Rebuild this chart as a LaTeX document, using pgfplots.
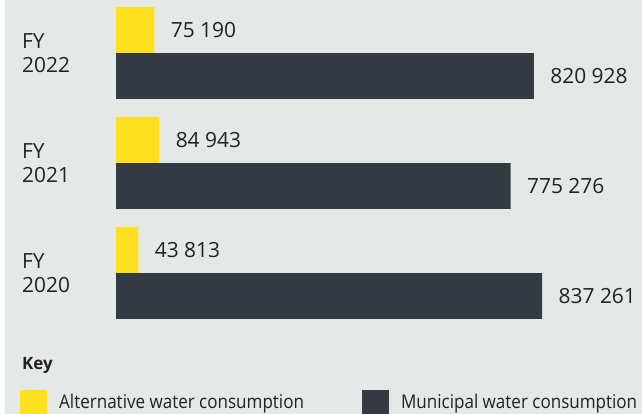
\documentclass[border=0pt]{standalone}
\usepackage{fontspec}
\setmainfont{Open Sans}
\newfontfamily\condfont[FakeStretch=0.9]{Open Sans}
\usepackage{pgfplots}
\pgfplotsset{compat=1.18}
\definecolor{bgc}{HTML}{E4E8E7}
\definecolor{yel}{HTML}{FFE01E}
\definecolor{drk}{HTML}{343A41}
\definecolor{txt}{HTML}{222222}
\begin{document}
\begin{tikzpicture}
\useasboundingbox (0bp,0bp) rectangle (642bp,414bp);
\fill[white] (0bp,0bp) rectangle (642bp,414bp);
\fill[bgc] (5bp,0bp) rectangle (642bp,414bp);
\begin{axis}[
  at={(116bp,414bp)}, anchor=north west,
  scale only axis, width=500bp, height=330bp,
  xbar, bar width=0.418,
  xmin=0, xmax=982318, ymin=-0.518, ymax=2.482,
  axis line style={draw=none},
  xtick=\empty,
  ytick={0,1,2}, yticklabels={{FY\\2020},{FY\\2021},{FY\\2022}},
  major tick length=0pt,
  yticklabel style={anchor=west, xshift=-94bp, align=left, inner sep=0pt, font=\fontsize{21}{24}\selectfont, text=txt},
  clip=false,
  nodes near coords, point meta=explicit symbolic,
  nodes near coords style={anchor=west, xshift=13bp, font=\fontsize{21}{24}\selectfont, text=txt},
  legend columns=2,
  legend style={at={(axis description cs:-0.192,-0.2182)}, anchor=west, draw=none, fill=none, inner sep=0pt,
    font=\condfont\fontsize{19}{22}\selectfont, text=txt,
    nodes={inner sep=0pt},
    /tikz/every odd column/.append style={column sep=12bp},
    /tikz/every even column/.append style={column sep=58bp}},
  legend image code/.code={\fill[#1] (0bp,-12bp) rectangle (27bp,12bp);},
]
\addplot[fill=yel, draw=none, bar shift=0.209] coordinates {(43813,0)[43 813] (84943,1)[84 943] (75190,2)[75 190]};
\addplot[fill=drk, draw=none, bar shift=-0.209] coordinates {(837261,0)[837 261] (775276,1)[775 276] (820928,2)[820 928]};
\legend{Alternative water consumption, Municipal water consumption}
\end{axis}
\node[anchor=base west, inner sep=0pt, font=\bfseries\fontsize{17}{20}\selectfont, text=txt] at (22bp,44bp) {Key};
\end{tikzpicture}
\end{document}
